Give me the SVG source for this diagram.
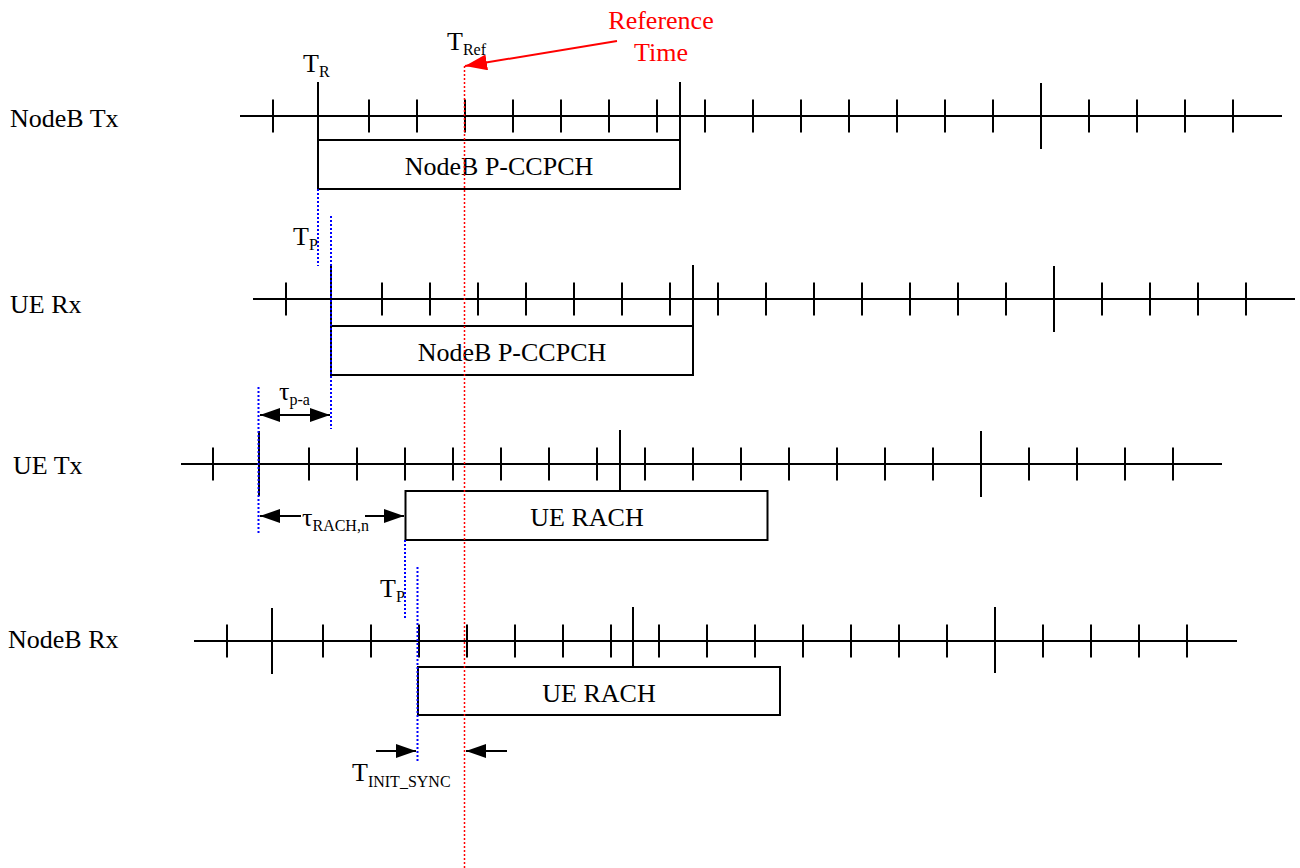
<svg xmlns="http://www.w3.org/2000/svg" width="1300" height="868" viewBox="0 0 1300 868">
<style>
.ax{stroke:#000;stroke-width:2;fill:none}
.box{stroke:#000;stroke-width:2;fill:#fff}
.t{font-family:"Liberation Serif","Times New Roman",serif;font-size:26px;fill:#000}
.s{font-size:16px}
.c{text-anchor:middle}
.red{fill:#ff0000}
.blue{stroke:#0000ff;stroke-width:2;stroke-dasharray:2 2;fill:none}
.rdot{stroke:#ff0000;stroke-width:1.5;stroke-dasharray:2 2;fill:none}
.arr{stroke:#000;stroke-width:2;fill:none}
</style>
<defs>
<marker id="ah" markerUnits="userSpaceOnUse" markerWidth="20" markerHeight="14" refX="20" refY="7" orient="auto-start-reverse"><path d="M0,0 L20,7 L0,14 z" fill="#000"/></marker>
<marker id="rah" markerUnits="userSpaceOnUse" markerWidth="22" markerHeight="16" refX="22" refY="8" orient="auto"><path d="M0,0 L22,8 L0,16 z" fill="#ff0000"/></marker>
</defs>

<g id="row-nodeb-tx">
<text class="t" x="10" y="127">NodeB Tx</text>
<path class="ax" d="M240,116 H1282 M273,99.5 v33 M369,99.5 v33 M417,99.5 v33 M465,99.5 v33 M513,99.5 v33 M561,99.5 v33 M609,99.5 v33 M657,99.5 v33 M705,99.5 v33 M753,99.5 v33 M801,99.5 v33 M849,99.5 v33 M897,99.5 v33 M945,99.5 v33 M993,99.5 v33 M1089,99.5 v33 M1137,99.5 v33 M1185,99.5 v33 M1233,99.5 v33 M318,82 V140 M680,82 V140 M1041,83 V149"/>
<rect class="box" x="318" y="140" width="362" height="49"/>
<text class="t c" x="499" y="175">NodeB P-CCPCH</text>
</g>

<g id="row-ue-rx">
<text class="t" x="10" y="313">UE Rx</text>
<path class="ax" d="M253,299 H1295 M286,282.5 v33 M382,282.5 v33 M430,282.5 v33 M478,282.5 v33 M526,282.5 v33 M574,282.5 v33 M622,282.5 v33 M670,282.5 v33 M718,282.5 v33 M766,282.5 v33 M814,282.5 v33 M862,282.5 v33 M910,282.5 v33 M958,282.5 v33 M1006,282.5 v33 M1102,282.5 v33 M1150,282.5 v33 M1198,282.5 v33 M1246,282.5 v33 M331,266 V326 M693,265 V326 M1054,266 V332"/>
<rect class="box" x="331" y="326" width="362" height="49"/>
<text class="t c" x="512" y="361">NodeB P-CCPCH</text>
</g>

<g id="row-ue-tx">
<text class="t" x="13" y="474">UE Tx</text>
<path class="ax" d="M181,464 H1222 M213,447.5 v33 M309,447.5 v33 M357,447.5 v33 M405,447.5 v33 M453,447.5 v33 M501,447.5 v33 M549,447.5 v33 M597,447.5 v33 M645,447.5 v33 M693,447.5 v33 M741,447.5 v33 M789,447.5 v33 M837,447.5 v33 M885,447.5 v33 M933,447.5 v33 M1029,447.5 v33 M1077,447.5 v33 M1125,447.5 v33 M1173,447.5 v33 M259,431 V496 M620,430 V491 M981,431 V497"/>
<rect class="box" x="405.5" y="491" width="362" height="49"/>
<text class="t c" x="587" y="526">UE RACH</text>
</g>

<g id="row-nodeb-rx">
<text class="t" x="8" y="648">NodeB Rx</text>
<path class="ax" d="M194,641 H1237 M227,624.5 v33 M323,624.5 v33 M371,624.5 v33 M419,624.5 v33 M467,624.5 v33 M515,624.5 v33 M563,624.5 v33 M611,624.5 v33 M659,624.5 v33 M707,624.5 v33 M755,624.5 v33 M803,624.5 v33 M851,624.5 v33 M899,624.5 v33 M947,624.5 v33 M1043,624.5 v33 M1091,624.5 v33 M1139,624.5 v33 M1187,624.5 v33 M272,608 V674 M633,607 V667 M995,607 V673"/>
<rect class="box" x="418" y="667" width="362" height="48"/>
<text class="t c" x="599" y="702">UE RACH</text>
</g>

<g id="labels">
<text class="t" x="303" y="72">T<tspan class="s" dy="5">R</tspan></text>
<text class="t" x="447" y="50">T<tspan class="s" dy="5">Ref</tspan></text>
<text class="t c red" x="661" y="29">Reference</text>
<text class="t c red" x="661" y="61">Time</text>
<text class="t" x="293" y="245">T<tspan class="s" dy="5">P</tspan></text>
<text class="t" x="380" y="597">T<tspan class="s" dy="5">P</tspan></text>
<text class="t" x="279" y="400">τ<tspan class="s" dy="5">p-a</tspan></text>
<text class="t" x="302" y="526">τ<tspan class="s" dy="5">RACH,n</tspan></text>
<text class="t" x="352" y="781">T<tspan class="s" dy="6">INIT_SYNC</tspan></text>
</g>

<g id="connectors">
<line class="rdot" x1="464.5" y1="66" x2="464.5" y2="868"/>
<line class="blue" x1="318" y1="189" x2="318" y2="266"/>
<line class="blue" x1="331" y1="216" x2="331" y2="429"/>
<line class="blue" x1="258.5" y1="387" x2="258.5" y2="534"/>
<line class="blue" x1="405" y1="540" x2="405" y2="618"/>
<line class="blue" x1="417.5" y1="567" x2="417.5" y2="762"/>
<line x1="617" y1="41" x2="465" y2="66" stroke="#ff0000" stroke-width="2" marker-end="url(#rah)"/>
<line class="arr" x1="260" y1="415" x2="330" y2="415" marker-start="url(#ah)" marker-end="url(#ah)"/>
<line class="arr" x1="301" y1="516" x2="260" y2="516" marker-end="url(#ah)"/>
<line class="arr" x1="365" y1="516" x2="404" y2="516" marker-end="url(#ah)"/>
<line class="arr" x1="376" y1="751" x2="416" y2="751" marker-end="url(#ah)"/>
<line class="arr" x1="507" y1="751" x2="466" y2="751" marker-end="url(#ah)"/>
</g>
</svg>
